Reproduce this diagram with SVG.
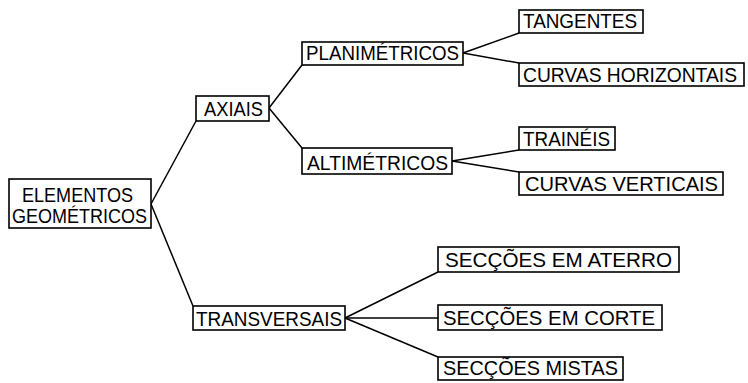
<svg xmlns="http://www.w3.org/2000/svg" width="748" height="383" viewBox="0 0 748 383">
<style>
rect{fill:#fff;stroke:#000;stroke-width:1.6}
text{font-family:"Liberation Sans",Arial,sans-serif;font-size:21px;fill:#000}
#connectors line{stroke:#000;stroke-width:1.5}
</style>
<rect x="0" y="0" width="748" height="383" style="stroke:none"/>
<g id="connectors">
<line x1="151" y1="204" x2="196" y2="121"/>
<line x1="151" y1="204" x2="193" y2="306"/>
<line x1="269" y1="108" x2="302" y2="65"/>
<line x1="269" y1="108" x2="302" y2="148"/>
<line x1="463" y1="53" x2="519" y2="33"/>
<line x1="463" y1="53" x2="519" y2="63"/>
<line x1="452" y1="161" x2="519" y2="150"/>
<line x1="452" y1="161" x2="519" y2="172"/>
<line x1="345" y1="318" x2="438" y2="272"/>
<line x1="345" y1="318" x2="438" y2="318"/>
<line x1="345" y1="318" x2="438" y2="357"/>
</g>
<g id="elementos"><rect x="9" y="179" width="142" height="49"/>
<text x="22" y="202" textLength="111" lengthAdjust="spacingAndGlyphs">ELEMENTOS</text>
<text x="12" y="223" textLength="135" lengthAdjust="spacingAndGlyphs">GEOMÉTRICOS</text></g>
<g id="axiais"><rect x="196" y="96" width="73" height="25"/>
<text x="204" y="116" textLength="59" lengthAdjust="spacingAndGlyphs">AXIAIS</text></g>
<g id="planimetricos"><rect x="302" y="42" width="161" height="23"/>
<text x="306" y="60" textLength="153" lengthAdjust="spacingAndGlyphs">PLANIMÉTRICOS</text></g>
<g id="tangentes"><rect x="519" y="10" width="124" height="23"/>
<text x="523" y="28" textLength="114" lengthAdjust="spacingAndGlyphs">TANGENTES</text></g>
<g id="curvas-horizontais"><rect x="519" y="63" width="225" height="23"/>
<text x="523" y="82" style="font-size:19.5px" textLength="214" lengthAdjust="spacingAndGlyphs">CURVAS HORIZONTAIS</text></g>
<g id="altimetricos"><rect x="302" y="148" width="150" height="26"/>
<text x="307" y="170" textLength="141" lengthAdjust="spacingAndGlyphs">ALTIMÉTRICOS</text></g>
<g id="traineis"><rect x="519" y="127" width="96" height="23"/>
<text x="523" y="146" textLength="87" lengthAdjust="spacingAndGlyphs">TRAINÉIS</text></g>
<g id="curvas-verticais"><rect x="519" y="172" width="204" height="23"/>
<text x="525" y="191" textLength="193" lengthAdjust="spacingAndGlyphs">CURVAS VERTICAIS</text></g>
<g id="transversais"><rect x="193" y="306" width="152" height="24"/>
<text x="196" y="326" textLength="146" lengthAdjust="spacingAndGlyphs">TRANSVERSAIS</text></g>
<g id="seccoes-aterro"><rect x="438" y="247" width="241" height="25"/>
<text x="445" y="267" textLength="227" lengthAdjust="spacingAndGlyphs">SECÇÕES EM ATERRO</text></g>
<g id="seccoes-corte"><rect x="438" y="305" width="224" height="25"/>
<text x="443" y="325" textLength="212" lengthAdjust="spacingAndGlyphs">SECÇÕES EM CORTE</text></g>
<g id="seccoes-mistas"><rect x="438" y="357" width="185" height="23"/>
<text x="443" y="375" textLength="175" lengthAdjust="spacingAndGlyphs">SECÇÕES MISTAS</text></g>
</svg>
